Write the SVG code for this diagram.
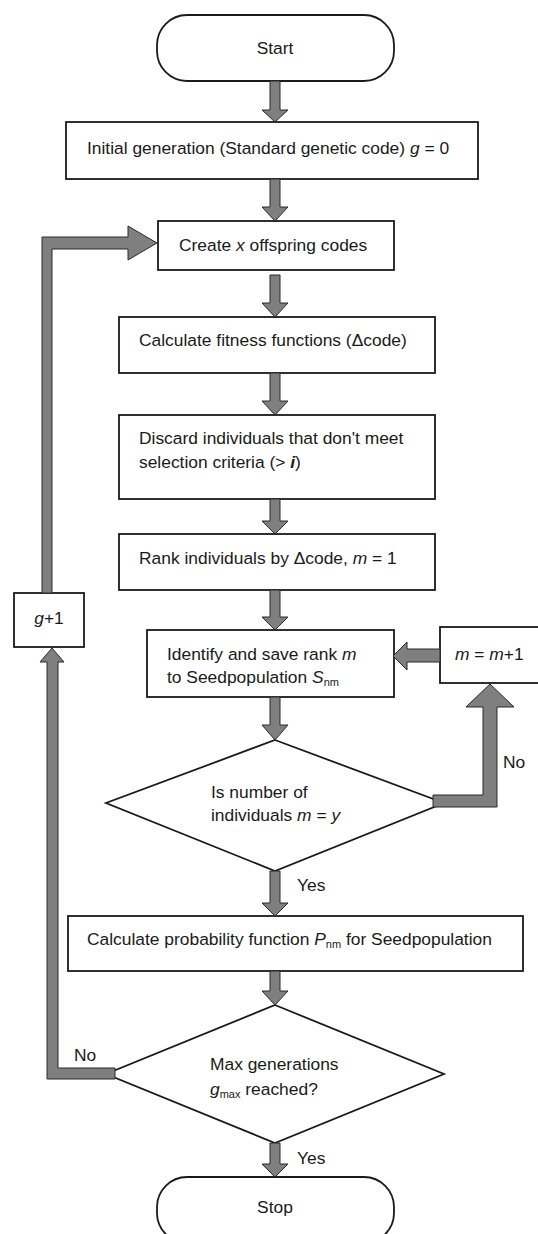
<svg xmlns="http://www.w3.org/2000/svg" width="538" height="1234" viewBox="0 0 538 1234">
<style>
.box{fill:#fff;stroke:#1a1a1a;stroke-width:1.8}
.arr{fill:#7f7f7f;stroke:#2a2a2a;stroke-width:1;stroke-linejoin:miter}
text{font-family:"Liberation Sans",Arial,sans-serif;font-size:17.4px;fill:#1a1a1a}
.c{text-anchor:middle}
.i{font-style:italic}
.sub{font-size:11px}
</style>
<rect width="538" height="1234" fill="#fff"/>
<g id="nodes">
<g id="start"><rect class="box" x="157" y="15" width="237" height="66" rx="30" ry="30"/><text class="c" x="275" y="54">Start</text></g>
<g id="init"><rect class="box" x="66" y="122" width="412" height="57"/><text x="87" y="154">Initial generation (Standard genetic code) <tspan class="i">g</tspan> = 0</text></g>
<g id="create"><rect class="box" x="158" y="221" width="236" height="49"/><text x="179" y="251">Create <tspan class="i">x</tspan> offspring codes</text></g>
<g id="fitness"><rect class="box" x="119" y="317" width="316" height="56"/><text x="139" y="346">Calculate fitness functions (Δcode)</text></g>
<g id="discard"><rect class="box" x="119" y="415" width="316" height="84"/><text x="139" y="444">Discard individuals that don't meet</text><text x="139" y="468">selection criteria (&gt; <tspan class="i" font-weight="bold">i</tspan>)</text></g>
<g id="rank"><rect class="box" x="119" y="534" width="316" height="56"/><text x="139" y="564">Rank individuals by Δcode, <tspan class="i">m</tspan> = 1</text></g>
<g id="identify"><rect class="box" x="147" y="630" width="247" height="67"/><text x="167" y="660">Identify and save rank <tspan class="i">m</tspan></text><text x="167" y="683">to Seedpopulation <tspan class="i">S</tspan><tspan class="sub" dy="3">nm</tspan></text></g>
<g id="increment"><rect class="box" x="440" y="627" width="110" height="56"/><text x="455" y="660"><tspan class="i">m</tspan> = <tspan class="i">m</tspan>+1</text></g>
<g id="gplus"><rect class="box" x="14" y="593" width="70" height="54"/><text class="c" x="49" y="624"><tspan class="i">g</tspan>+1</text></g>
<g id="decision1"><polygon class="box" points="275,740 444,803 275,871 106,803"/><text x="211" y="798">Is number of</text><text x="211" y="821">individuals <tspan class="i">m</tspan> = <tspan class="i">y</tspan></text></g>
<g id="prob"><rect class="box" x="68" y="916" width="455" height="55"/><text x="87" y="945">Calculate probability function <tspan class="i">P</tspan><tspan class="sub" dy="3">nm</tspan><tspan dy="-3"> for Seedpopulation</tspan></text></g>
<g id="decision2"><polygon class="box" points="275,1005 444,1074 275,1143 106,1074"/><text x="210" y="1070">Max generations</text><text x="210" y="1095"><tspan class="i">g</tspan><tspan class="sub" dy="3">max</tspan><tspan dy="-3"> reached?</tspan></text></g>
<g id="stop"><rect class="box" x="157" y="1177" width="237" height="66" rx="30" ry="30"/><text class="c" x="275" y="1213">Stop</text></g>
</g>
<g id="connectors">
<polygon class="arr" points="270,81 280,81 280,110 288,110 275,122 262,110 270,110"/>
<polygon class="arr" points="270,179 280,179 280,207 288,207 275,221 262,207 270,207"/>
<polygon class="arr" points="270,275 280,275 280,303 288,303 275,317 262,303 270,303"/>
<polygon class="arr" points="270,373 280,373 280,401 288,401 275,415 262,401 270,401"/>
<polygon class="arr" points="270,499 280,499 280,521 288,521 275,534 262,521 270,521"/>
<polygon class="arr" points="270,590 280,590 280,617 288,617 275,630 262,617 270,617"/>
<polygon class="arr" points="270,697 280,697 280,725 288,725 275,740 262,725 270,725"/>
<polygon class="arr" points="270,871 280,871 280,903 288,903 275,916 262,903 270,903"/>
<polygon class="arr" points="270,971 280,971 280,991 288,991 275,1005 262,991 270,991"/>
<polygon class="arr" points="270,1143 280,1143 280,1164 288,1164 275,1177 262,1164 270,1164"/>
<polygon class="arr" points="433,795 483,795 483,707 466,707 490,684 514,707 497,707 497,807 433,807"/>
<polygon class="arr" points="440,649 407,649 407,642 393,656 407,670 407,662 440,662"/>
<polygon class="arr" points="115,1068 58,1068 58,662 64,662 52,648 40,662 47,662 47,1079 115,1079"/>
<polygon class="arr" points="42,593 52,593 52,249 128,249 128,260 157,243 128,226 128,237 42,237"/>
</g>
<g id="labels">
<text x="297" y="891">Yes</text>
<text x="297" y="1164">Yes</text>
<text x="503" y="768">No</text>
<text x="74" y="1061">No</text>
</g>
</svg>
